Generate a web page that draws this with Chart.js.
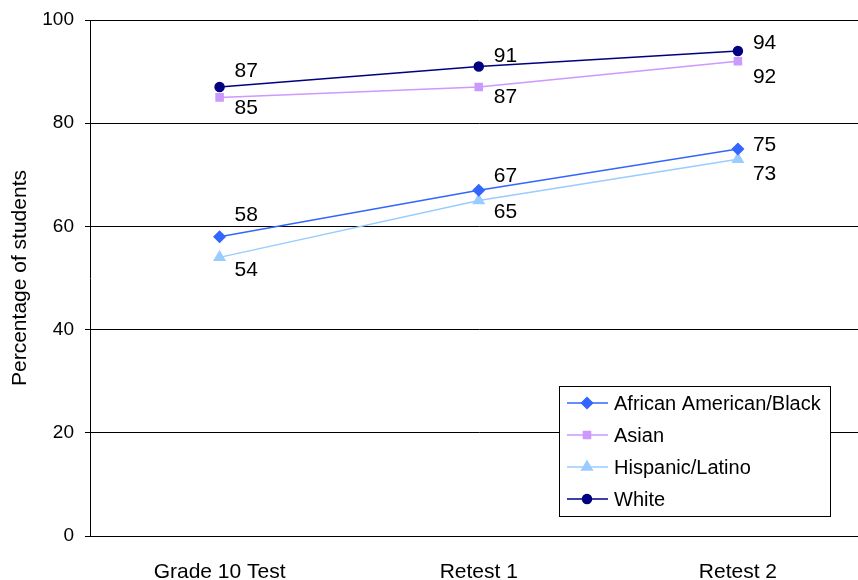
<!DOCTYPE html>
<html>
<head>
<meta charset="utf-8">
<script src="https://cdn.jsdelivr.net/npm/chart.js@4/dist/chart.umd.min.js"></script>
<style>
  html, body { margin: 0; padding: 0; background: #fff; overflow: hidden; }
  #wrap { width: 875px; height: 580px; }
</style>
</head>
<body>
<div id="wrap"><canvas id="chart" width="875" height="580"></canvas></div>
<script>
var categories = ['Grade 10 Test', 'Retest 1', 'Retest 2'];
var africanAmerican = [58, 67, 75];
var asian = [85, 87, 92];
var hispanic = [54, 65, 73];
var white = [87, 91, 94];
var yTicks = [0, 20, 40, 60, 80, 100];

var FONT = 'Arial, "Liberation Sans", sans-serif';

// label vertical offsets (px from point to label centre)
var labelOffsets = {
    'African American/Black': [-22, -14, -4],
    'Asian': [11, 10, 16],
    'Hispanic/Latino': [13, 12, 15],
    'White': [-16, -10, -8]
};

var dataLabels = {
    id: 'dataLabels',
    afterDatasetsDraw: function(chart) {
        var ctx = chart.ctx;
        ctx.save();
        ctx.font = '21px ' + FONT;
        ctx.fillStyle = '#000';
        ctx.textAlign = 'left';
        ctx.textBaseline = 'middle';
        chart.data.datasets.forEach(function(ds, i) {
            var meta = chart.getDatasetMeta(i);
            var offs = labelOffsets[ds.label];
            meta.data.forEach(function(pt, j) {
                ctx.fillText(String(ds.data[j]), pt.x + 15, pt.y + offs[j]);
            });
        });
        ctx.restore();
    }
};

var boxLegend = {
    id: 'boxLegend',
    afterDraw: function(chart) {
        var ctx = chart.ctx;
        var a = chart.chartArea;
        var x = a.left + 469, y = a.top + 366, w = 271, h = 130;
        ctx.save();
        ctx.fillStyle = '#fff';
        ctx.fillRect(x, y, w, h);
        ctx.strokeStyle = '#000';
        ctx.lineWidth = 1;
        ctx.strokeRect(x + 0.5, y + 0.5, w, h);
        ctx.font = '20px ' + FONT;
        ctx.textBaseline = 'middle';
        chart.data.datasets.forEach(function(ds, i) {
            var ly = y + 17 + i * 32;
            ctx.strokeStyle = ds.borderColor;
            ctx.lineWidth = 1.5;
            ctx.beginPath();
            ctx.moveTo(x + 8, ly);
            ctx.lineTo(x + 49, ly);
            ctx.stroke();
            Chart.helpers.drawPoint(ctx, {
                pointStyle: ds.pointStyle,
                radius: ds.pointRadius,
                borderWidth: 1
            }, x + 28, ly);
            ctx.fillStyle = ds.pointBackgroundColor;
            ctx.strokeStyle = ds.borderColor;
            ctx.fill();
            ctx.fillStyle = '#000';
            ctx.fillText(ds.label, x + 55, ly + 1);
        });
        ctx.restore();
    }
};

function series(label, data, color, style, r) {
    return {
        label: label,
        data: data,
        borderColor: color,
        backgroundColor: color,
        pointBackgroundColor: color,
        pointBorderColor: color,
        pointStyle: style,
        pointRadius: r,
        pointHoverRadius: r,
        borderWidth: 1.5,
        tension: 0
    };
}

new Chart(document.getElementById('chart').getContext('2d'), {
    type: 'line',
    data: {
        labels: categories,
        datasets: [
            series('African American/Black', africanAmerican, '#3366FF', 'rectRot', 5.5),
            series('Asian', asian, '#CC99FF', 'rect', 5),
            series('Hispanic/Latino', hispanic, '#99CCFF', 'triangle', 6),
            series('White', white, '#000080', 'circle', 4.5)
        ]
    },
    options: {
        responsive: false,
        animation: false,
        devicePixelRatio: 1,
        layout: { padding: { top: 20, right: 0, left: 0, bottom: 0 } },
        plugins: {
            legend: { display: false },
            tooltip: { enabled: false }
        },
        scales: {
            x: {
                offset: true,
                grid: { display: false },
                border: { display: true, color: '#000', width: 1 },
                ticks: { color: '#000', font: { family: FONT, size: 21 }, padding: 16 },
                afterFit: function(scale) { scale.height = 44; }
            },
            y: {
                min: 0,
                max: 100,
                afterBuildTicks: function(scale) {
                    scale.ticks = yTicks.map(function(v) { return { value: v }; });
                },
                grid: { color: '#000', lineWidth: 1, tickLength: 5, drawTicks: true },
                border: { display: true, color: '#000', width: 1 },
                ticks: { color: '#000', font: { family: FONT, size: 19 }, padding: 11 },
                title: {
                    display: true,
                    text: 'Percentage of students',
                    color: '#000',
                    font: { family: FONT, size: 21 },
                    padding: { top: 8, bottom: 0 }
                },
                afterFit: function(scale) {
                    scale.width = 90;
                    scale.paddingTop = 0;
                    scale.paddingBottom = 0;
                }
            }
        }
    },
    plugins: [dataLabels, boxLegend]
});
</script>
</body>
</html>
